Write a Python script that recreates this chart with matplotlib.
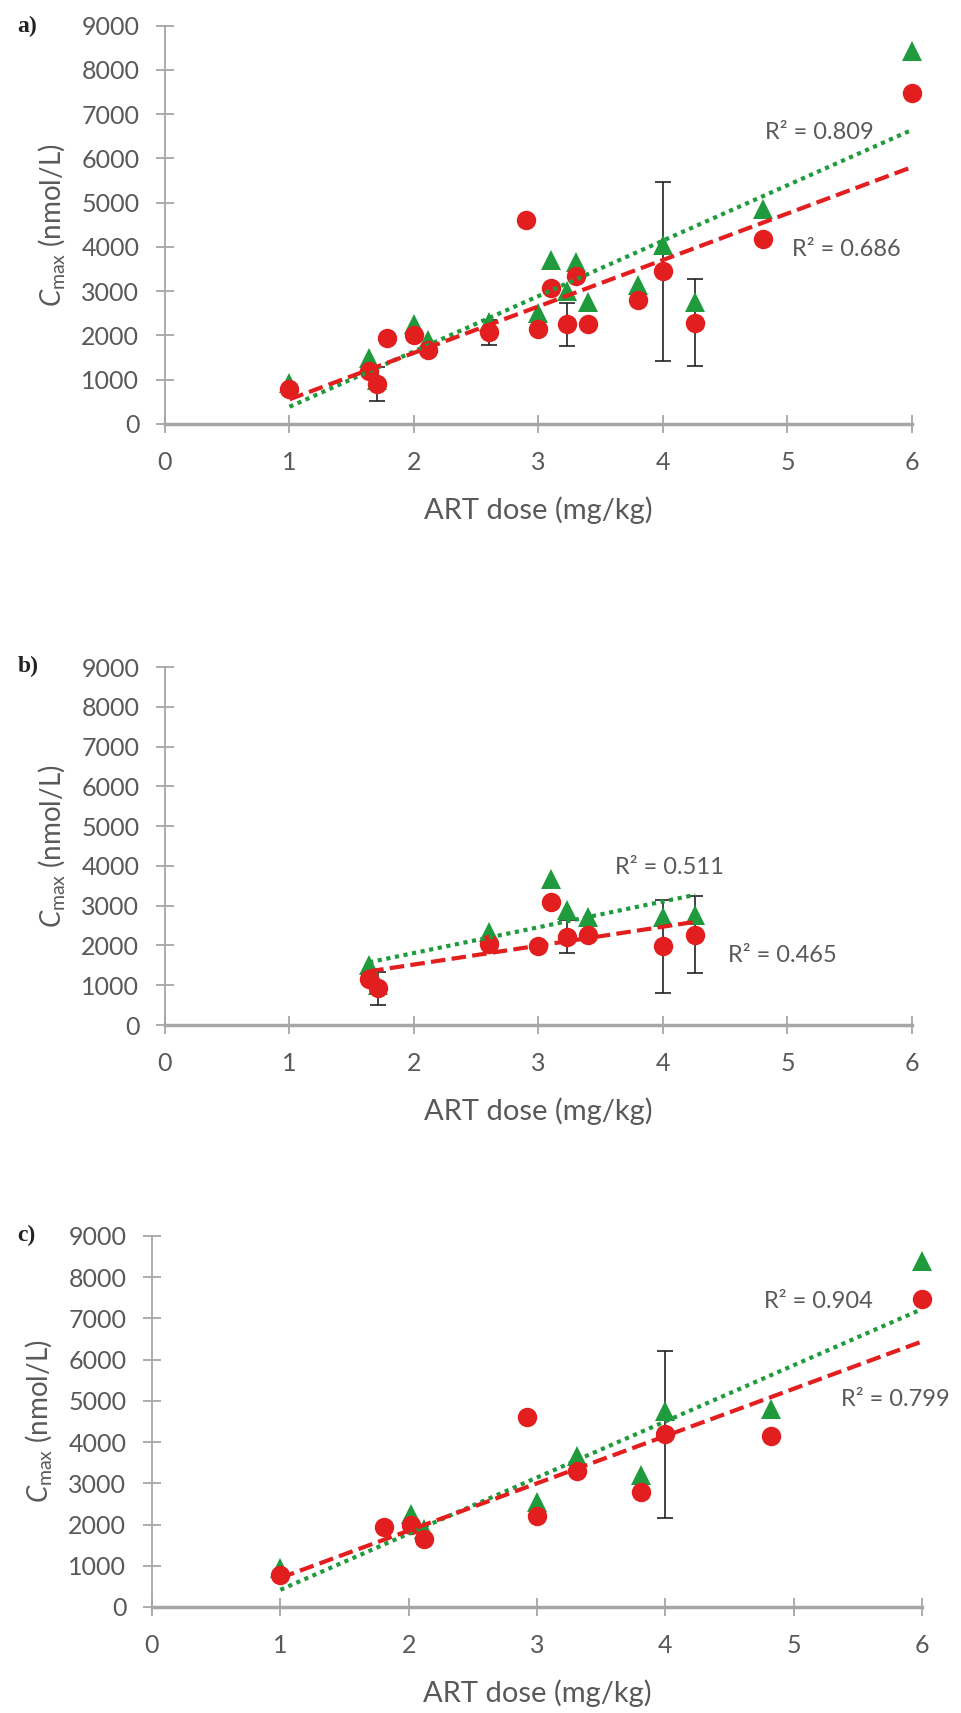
import numpy as np
import matplotlib
matplotlib.use('Agg')
import matplotlib.pyplot as plt

plt.rcParams['font.family'] = ['Lato', 'DejaVu Sans']
plt.rcParams['mathtext.fontset'] = 'custom'
plt.rcParams['mathtext.rm'] = 'Lato'
plt.rcParams['mathtext.it'] = 'Lato:italic'

# panel a) - all doses
a_dose_red = [1.0, 1.64, 1.70, 1.78, 2.0, 2.11, 2.6, 2.9, 3.0, 3.1, 3.23, 3.3, 3.4, 3.8, 4.0, 4.26, 4.8, 6.0]
a_cmax_red = [790, 1200, 900, 1950, 2000, 1680, 2070, 4600, 2140, 3080, 2250, 3350, 2250, 2800, 3450, 2290, 4190, 7480]
a_err_red = [0, 0, 380, 0, 0, 0, 280, 0, 0, 0, 480, 0, 0, 0, 2020, 990, 0, 0]
a_dose_green = [1.0, 1.64, 1.70, 2.0, 2.11, 2.6, 3.0, 3.1, 3.23, 3.3, 3.4, 3.8, 4.0, 4.26, 4.8, 6.0]
a_cmax_green = [920, 1500, 1000, 2250, 1900, 2300, 2500, 3700, 3000, 3650, 2750, 3150, 4050, 2750, 4850, 8420]

# panel b)
b_dose_red = [1.64, 1.71, 2.6, 3.0, 3.1, 3.23, 3.4, 4.0, 4.26]
b_cmax_red = [1170, 920, 2050, 1980, 3100, 2220, 2260, 1975, 2270]
b_err_red = [0, 420, 0, 0, 0, 420, 0, 1165, 970]
b_dose_green = [1.64, 1.71, 2.6, 3.1, 3.23, 3.4, 4.0, 4.26]
b_cmax_green = [1500, 1000, 2350, 3680, 2900, 2720, 2720, 2760]

# panel c)
c_dose_red = [1.0, 1.81, 2.02, 2.12, 2.92, 3.0, 3.31, 3.81, 4.0, 4.82, 6.0]
c_cmax_red = [770, 1950, 2000, 1650, 4600, 2200, 3300, 2800, 4185, 4150, 7460]
c_err_red = [0, 0, 0, 0, 0, 0, 0, 0, 2025, 0, 0]
c_dose_green = [1.0, 2.02, 2.12, 3.0, 3.31, 3.81, 4.0, 4.82, 6.0]
c_cmax_green = [950, 2250, 1900, 2550, 3650, 3200, 4750, 4800, 8400]

r2_labels = [('R² = 0.809', 'R² = 0.686'), ('R² = 0.511', 'R² = 0.465'), ('R² = 0.904', 'R² = 0.799')]
r2_pos = [((5.26, 6580), (5.47, 3950)), ((4.05, 3970), (4.96, 1760)), ((5.19, 7420), (5.79, 5040))]
panel_tags = ['a)', 'b)', 'c)']

RED = '#E31E1E'
GREEN = '#1F9A3C'
GREY = '#595959'
AXIS = '#A6A6A6'

fig = plt.figure(figsize=(9.62, 17.13), dpi=100)
boxes = [[0.1715, 0.7525, 0.7765, 0.2325],
         [0.1715, 0.4016, 0.7765, 0.2090],
         [0.158, 0.0619, 0.8004, 0.2166]]
tag_y = [0.991, 0.617, 0.285]

panels = [(a_dose_red, a_cmax_red, a_err_red, a_dose_green, a_cmax_green),
          (b_dose_red, b_cmax_red, b_err_red, b_dose_green, b_cmax_green),
          (c_dose_red, c_cmax_red, c_err_red, c_dose_green, c_cmax_green)]

for i, (xr, yr, er, xg, yg) in enumerate(panels):
    ax = fig.add_axes(boxes[i])
    xr = np.array(xr); yr = np.array(yr); er = np.array(er)
    xg = np.array(xg); yg = np.array(yg)

    m = er > 0
    ax.errorbar(xr[m], yr[m], yerr=er[m], fmt='none', ecolor='#222222',
                elinewidth=1.2, capsize=5.5, capthick=1.2, zorder=1)
    ax.plot(xg, yg, '^', color=GREEN, markersize=15, markeredgewidth=0, zorder=2, clip_on=False)
    ax.plot(xr, yr, 'o', color=RED, markersize=14, markeredgewidth=0, zorder=3, clip_on=False)

    # linear trend lines
    kg = np.polyfit(xg, yg, 1)
    kr = np.polyfit(xr, yr, 1)
    xx = np.array([xg.min(), xg.max()])
    ax.plot(xx, np.polyval(kg, xx), linestyle=(0, (1, 1.1)), color=GREEN, linewidth=3, zorder=4)
    xx = np.array([xr.min(), xr.max()])
    ax.plot(xx, np.polyval(kr, xx), linestyle=(0, (3.5, 1.5)), color=RED, linewidth=3, zorder=4)

    (p1, p2) = r2_pos[i]
    ax.text(p1[0], p1[1], r2_labels[i][0], ha='center', va='center', fontsize=17, color=GREY, zorder=5)
    ax.text(p2[0], p2[1], r2_labels[i][1], ha='center', va='center', fontsize=17, color=GREY, zorder=5)

    ax.set_xlim(0, 6)
    ax.set_ylim(0, 9000)
    ax.set_xticks(range(0, 7))
    ax.set_yticks(range(0, 9001, 1000))
    for s in ['top', 'right']:
        ax.spines[s].set_visible(False)
    ax.spines['left'].set_color(AXIS)
    ax.spines['left'].set_linewidth(1.3)
    ax.spines['bottom'].set_color(AXIS)
    ax.spines['bottom'].set_linewidth(2.5)
    ax.tick_params(axis='both', direction='inout', length=13, width=1.3, color=AXIS,
                   labelsize=18, labelcolor=GREY)
    ax.tick_params(axis='y', pad=12)
    ax.tick_params(axis='x', pad=13)
    ax.set_xlabel('ART dose (mg/kg)', fontsize=21, color=GREY, labelpad=16)
    ax.set_ylabel(r'$C_{\mathrm{max}}$ (nmol/L)', fontsize=20, color=GREY, labelpad=10)
    fig.text(0.018, tag_y[i], panel_tags[i], family='Liberation Serif', fontsize=17,
             fontweight='bold', va='top', ha='left', color='#222222')

fig.savefig('out.png', dpi=100)
